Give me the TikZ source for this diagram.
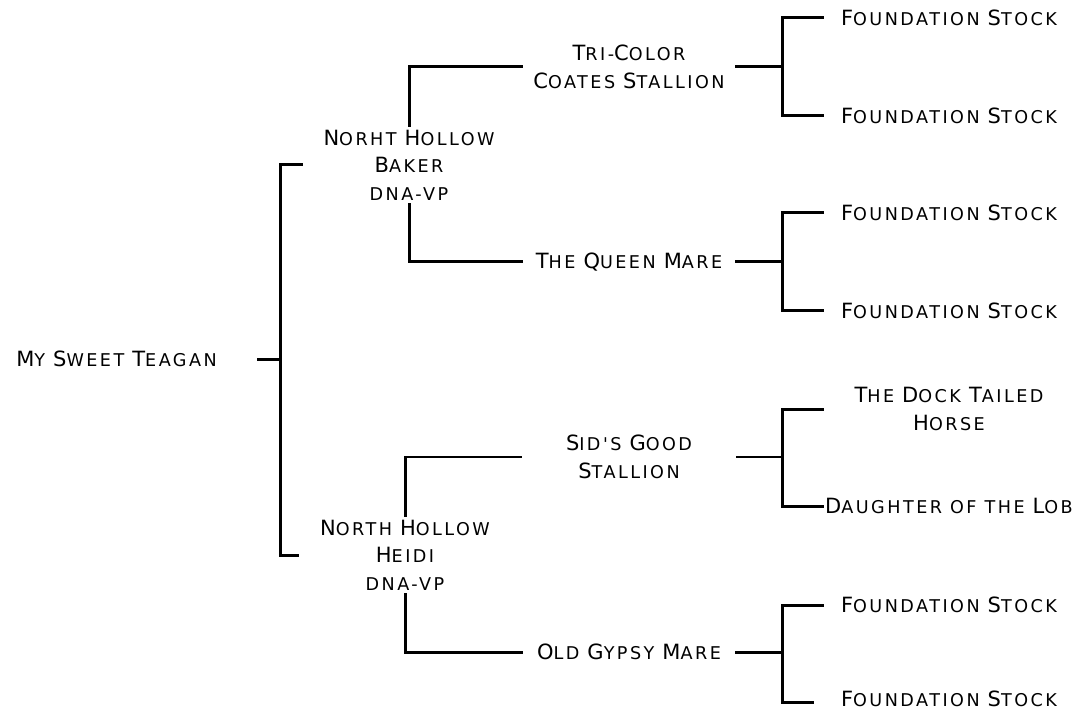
\documentclass[tikz,border=0pt]{standalone}
\usepackage{fontspec}
\newfontfamily\cpfont[LetterSpace=14]{DejaVu Sans}
\newcommand\B[1]{{\fontsize{21}{27.5}\selectfont #1}}
\tikzset{
  pnode/.style={font=\cpfont\fontsize{17.6}{27.5}\selectfont, align=center, inner xsep=0pt, inner ysep=4pt, text=black},
  gentwo/.style={pnode, minimum width=214pt},
  genthree/.style={pnode, minimum width=252pt},
  thickln/.style={line width=3pt, line cap=rect, line join=miter},
  thinln/.style={line width=1.2pt},
}
\begin{document}
\begin{tikzpicture}[x=1pt, y=-1pt]
\useasboundingbox (0,0) rectangle (1079,711);
% root
\node[pnode, minimum width=283pt] (teagan) at (116.5,359) {\B{M}Y \B{S}WEET \B{T}EAGAN};
% generation one
\node[gentwo] (baker) at (409,165) {\B{N}ORHT \B{H}OLLOW\\\B{B}AKER\\DNA-VP};
\node[gentwo] (heidi) at (405,555) {\B{N}ORTH \B{H}OLLOW\\\B{H}EIDI\\DNA-VP};
% generation two
\node[gentwo] (tri) at (629,67) {\B{T}RI-\B{C}OLOR\\\B{C}OATES \B{S}TALLION};
\node[gentwo] (queen) at (629,262) {\B{T}HE \B{Q}UEEN \B{M}ARE};
\node[gentwo] (sid) at (629,457) {\B{S}ID'S \B{G}OOD\\\B{S}TALLION};
\node[gentwo] (gypsy) at (629,652) {\B{O}LD \B{G}YPSY \B{M}ARE};
% generation three
\node[genthree] (fs1) at (949,18) {\B{F}OUNDATION \B{S}TOCK};
\node[genthree] (fs2) at (949,116) {\B{F}OUNDATION \B{S}TOCK};
\node[genthree] (fs3) at (949,213) {\B{F}OUNDATION \B{S}TOCK};
\node[genthree] (fs4) at (949,311) {\B{F}OUNDATION \B{S}TOCK};
\node[genthree] (dock) at (949,409) {\B{T}HE \B{D}OCK \B{T}AILED\\\B{H}ORSE};
\node[genthree] (lob) at (949,506) {\B{D}AUGHTER OF THE \B{L}OB};
\node[genthree] (fs7) at (949,605) {\B{F}OUNDATION \B{S}TOCK};
\node[genthree] (fs8) at (949,699) {\B{F}OUNDATION \B{S}TOCK};
% junctions
\coordinate (j0) at (280,359);
\coordinate (j1) at (782,67);
\coordinate (j2) at (782,262);
\coordinate (j3) at (782,457);
\coordinate (j4) at (782,652);
\coordinate (e8) at (812,702);
% root bracket
\draw[thickln] (teagan.east) -- (j0);
\draw[thickln] (baker.west) -| (j0) |- (heidi.west);
% Baker bracket
\draw[thickln] (baker.north) |- (tri.west);
\draw[thickln] (baker.south) |- (queen.west);
% Heidi bracket
\draw[thickln] (heidi.north) -- (heidi.north |- sid.west);
\draw[thinln] (heidi.north |- sid.west) -- (sid.west);
\draw[thickln] (heidi.south) |- (gypsy.west);
% third generation brackets
\draw[thickln] (tri.east) -- (j1);
\draw[thickln] (fs1.west) -| (j1) |- (fs2.west);
\draw[thickln] (queen.east) -- (j2);
\draw[thickln] (fs3.west) -| (j2) |- (fs4.west);
\draw[thinln] (sid.east) -- (j3);
\draw[thickln] (dock.west) -| (j3) |- (lob.west);
\draw[thickln] (gypsy.east) -- (j4);
\draw[thickln] (fs7.west) -| (j4) |- (e8);
\end{tikzpicture}
\end{document}
